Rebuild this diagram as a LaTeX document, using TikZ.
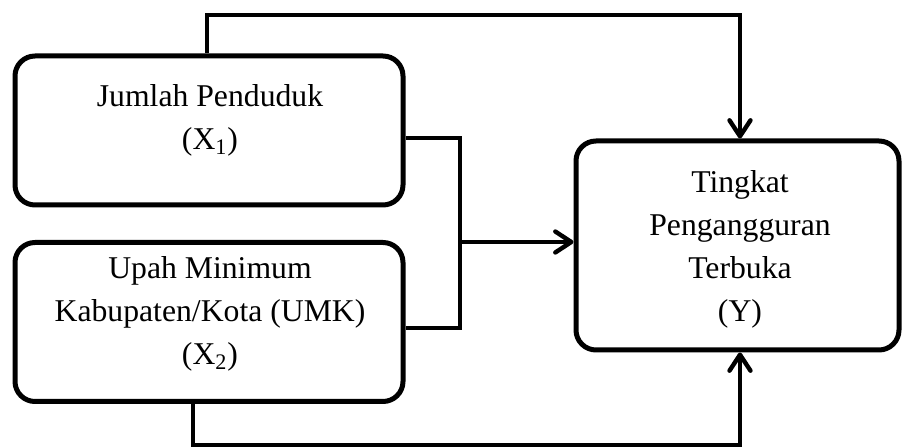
\documentclass[tikz,border=0pt]{standalone}
\usepackage{fontspec}
\setmainfont{Liberation Serif}
\usetikzlibrary{arrows.meta}
\begin{document}
\begin{tikzpicture}[x=0.5pt,y=-0.5pt,
  box/.style={draw=black,line width=2.5pt,rounded corners=10pt,inner sep=0pt},
  txt/.style={align=center,inner sep=0pt,font=\fontsize{15.85}{21.5}\selectfont},
  conn/.style={draw=black,line width=2.2pt},
  arr/.style={conn,-{Straight Barb[length=8pt,width=10.5pt,line cap=round,line join=round]}}]
\useasboundingbox (0,0) rectangle (902,448);
% boxes
\node[box,minimum width=194pt,minimum height=74.5pt] (x1) at (209,130.5) {};
\node[box,minimum width=194pt,minimum height=79.5pt] (x2) at (209,322) {};
\node[box,minimum width=161.5pt,minimum height=104.5pt] (y) at (737.5,245.5) {};
% texts
\node[txt] (x1t) at (210,120) {Jumlah Penduduk\\(X\textsubscript{1})};
\node[txt] (x2t) at (210,314) {Upah Minimum\\Kabupaten/Kota (UMK)\\(X\textsubscript{2})};
\node[txt] (yt) at (740,249) {Tingkat\\Pengangguran\\Terbuka\\(Y)};
% helper coordinates
\coordinate (t1) at (207,15);
\coordinate (t2) at (740,15);
\coordinate (b1) at (193,445);
\coordinate (b2) at (740,445);
\coordinate (m1) at (460,138);
\coordinate (m2) at (460,328);
\coordinate (m3) at (460,242);
% connectors
\draw[arr] (x1.north -| t1) -- (t1) -- (t2) -- (t2 |- y.north);
\draw[arr] (x2.south -| b1) -- (b1) -- (b2) -- (b2 |- y.south);
\draw[conn] (x1.east |- m1) -- (m1) -- (m2) -- (x2.east |- m2);
\draw[arr] (m3) -- (y.west |- m3);
\end{tikzpicture}
\end{document}
